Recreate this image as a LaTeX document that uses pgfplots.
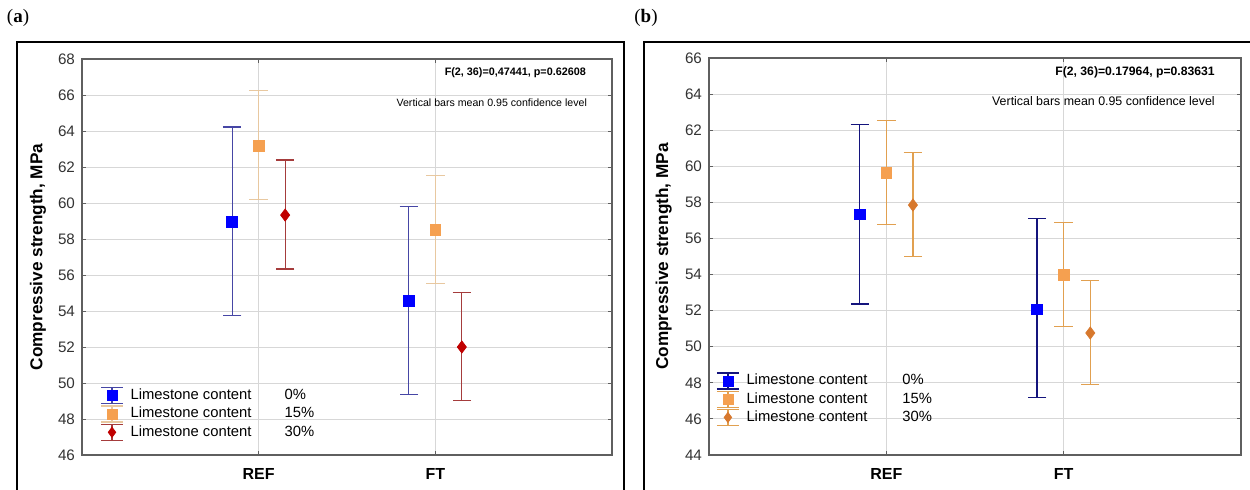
\documentclass[border=0pt]{standalone}
\usepackage{fontspec}
\setmainfont{Liberation Sans}
\newfontfamily\seriffont{Liberation Serif}
\usepackage{pgfplots}
\pgfplotsset{compat=1.18}

\definecolor{mblue}{RGB}{0,0,255}
\definecolor{ablue}{RGB}{70,70,165}
\definecolor{bblue}{RGB}{20,20,125}
\definecolor{morange}{RGB}{245,160,80}
\definecolor{aobar}{RGB}{232,200,160}
\definecolor{mred}{RGB}{192,0,0}
\definecolor{arbar}{RGB}{165,60,60}
\definecolor{bobar}{RGB}{225,160,80}
\definecolor{bdia}{RGB}{215,120,45}
\definecolor{gridc}{RGB}{215,215,215}
\definecolor{axc}{RGB}{95,95,95}

\pgfplotsset{
 panel/.style={
  scale only axis, anchor=south west,
  xmin=0, xmax=3, xtick={1,2}, xticklabels={REF,FT},
  ytick distance=2,
  grid=major, major grid style={gridc, line width=0.5pt},
  axis line style={axc, line width=0.7pt},
  tick align=inside, major tick length=2pt, tick style={axc, line width=0.5pt},
  /pgf/number format/assume math mode=true,
  yticklabel style={font=\fontsize{7.6}{8}\selectfont, text=black!80},
  xticklabel style={font=\bfseries\fontsize{8}{9}\selectfont, yshift=-3pt},
  ylabel={Compressive strength, MPa},
  ylabel style={font=\bfseries\fontsize{8.6}{9}\selectfont, anchor=center},
  legend style={draw=none, fill=none, font=\fontsize{7.4}{8.5}\selectfont,
    anchor=north west, cells={anchor=west}, row sep=0.5pt, column sep=3.5pt,
    inner sep=0pt, nodes={inner sep=0pt}},
 },
 ebar/.style 2 args={only marks, #2,
   error bars/y dir=both, error bars/y explicit,
   error bars/error bar style={#1, line width=0.6pt},
   error bars/error mark options={rotate=90, #1, mark size=4.6pt, line width=0.6pt}},
 legimg/.style n args={3}{legend image code/.code={
   \draw[#1, line width=0.6pt] (0pt,-4pt)--(11pt,-4pt) (0pt,4pt)--(11pt,4pt) (5.5pt,-4pt)--(5.5pt,4pt);
   \draw[#2, fill=#2, mark=#3, mark size=2.5pt] plot coordinates {(5.5pt,0pt)};
 }},
}

\begin{document}
\begin{tikzpicture}
\useasboundingbox (0,0) rectangle (625pt,244.5pt);
\draw[line width=1pt] (8.5pt,-5pt) -- (8.5pt,223.5pt) -- (312pt,223.5pt) -- (312pt,-5pt);
\draw[line width=1pt] (322pt,-5pt) -- (322pt,223.5pt) -- (640pt,223.5pt);
\node[font=\seriffont\fontsize{9.5}{10}\selectfont] at (9pt,235.5pt) {(\textbf{a})};
\node[font=\seriffont\fontsize{9.5}{10}\selectfont] at (323pt,235.5pt) {(\textbf{b})};

% ---------------- panel (a)
\begin{axis}[panel, at={(41pt,17pt)}, width=265pt, height=198pt,
  ymin=46, ymax=68,
  ylabel style={at={(axis description cs:-0.083,0.5)}},
  legend style={at={(axis description cs:0.034,0.172)}}]
\addlegendimage{legimg={ablue}{mblue}{square*}}
\addlegendentry{\makebox[77pt][l]{Limestone content}0\%}
\addlegendimage{legimg={aobar}{morange}{square*}}
\addlegendentry{\makebox[77pt][l]{Limestone content}15\%}
\addlegendimage{legimg={arbar}{mred}{diamond*}}
\addlegendentry{\makebox[77pt][l]{Limestone content}30\%}

\addplot[forget plot, ebar={ablue}{mark=square*, mark size=2.7pt, color=mblue}]
 table[x=x, y=y, y error plus=ep, y error minus=em] {
x y ep em
0.85 58.93 5.29 5.19
1.85 54.54 5.27 5.19
};
\addplot[forget plot, ebar={aobar}{mark=square*, mark size=2.7pt, color=morange}]
 table[x=x, y=y, y error plus=ep, y error minus=em] {
x y ep em
1.00 63.17 3.08 2.98
2.00 58.52 3.02 3.00
};
\addplot[forget plot, ebar={arbar}{mark=diamond*, mark size=3pt, color=mred}]
 table[x=x, y=y, y error plus=ep, y error minus=em] {
x y ep em
1.15 59.33 3.06 3.00
2.15 52.00 3.04 2.98
};
\node[anchor=east, font=\bfseries\fontsize{5.4}{6}\selectfont] at (rel axis cs:0.964,0.965) {F(2, 36)=0,47441, p=0.62608};
\node[anchor=east, font=\fontsize{5.3}{6}\selectfont] at (rel axis cs:0.966,0.890) {Vertical bars mean 0.95 confidence level};
\end{axis}

% ---------------- panel (b)
\begin{axis}[panel, at={(354.5pt,17pt)}, width=266pt, height=198.5pt,
  ymin=44, ymax=66,
  ylabel style={at={(axis description cs:-0.085,0.5)}},
  legend style={at={(axis description cs:0.013,0.209)}}]
\addlegendimage{legimg={bblue}{mblue}{square*}}
\addlegendentry{\makebox[78pt][l]{Limestone content}0\%}
\addlegendimage{legimg={bobar}{morange}{square*}}
\addlegendentry{\makebox[78pt][l]{Limestone content}15\%}
\addlegendimage{legimg={bobar}{bdia}{diamond*}}
\addlegendentry{\makebox[78pt][l]{Limestone content}30\%}

\addplot[forget plot, ebar={bblue}{mark=square*, mark size=2.7pt, color=mblue}]
 table[x=x, y=y, y error plus=ep, y error minus=em] {
x y ep em
0.85 57.33 4.97 4.96
1.85 52.07 5.02 4.90
};
\addplot[forget plot, ebar={bobar}{mark=square*, mark size=2.7pt, color=morange}]
 table[x=x, y=y, y error plus=ep, y error minus=em] {
x y ep em
1.00 59.65 2.87 2.89
2.00 53.96 2.91 2.85
};
\addplot[forget plot, ebar={bobar}{mark=diamond*, mark size=3pt, color=bdia}]
 table[x=x, y=y, y error plus=ep, y error minus=em] {
x y ep em
1.15 57.85 2.91 2.85
2.15 50.76 2.89 2.87
};
\node[anchor=east, font=\bfseries\fontsize{6.1}{7}\selectfont] at (rel axis cs:0.964,0.965) {F(2, 36)=0.17964, p=0.83631};
\node[anchor=east, font=\fontsize{6.2}{7}\selectfont] at (rel axis cs:0.964,0.892) {Vertical bars mean 0.95 confidence level};
\end{axis}
\end{tikzpicture}
\end{document}
